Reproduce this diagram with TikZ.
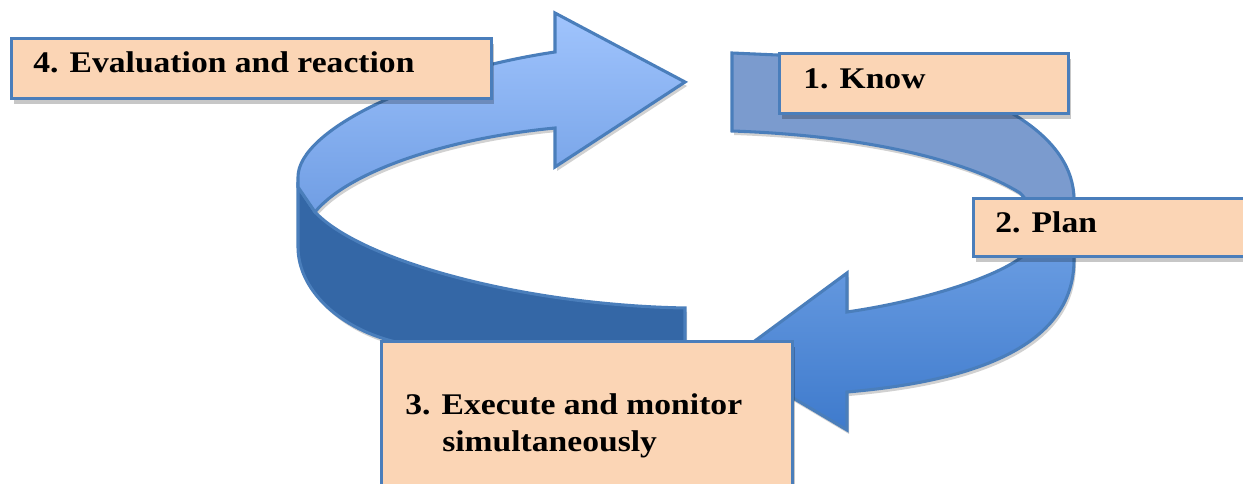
\documentclass[tikz,border=0pt]{standalone}
\usepackage{fontspec}
\setmainfont{Liberation Serif}[FakeStretch=1.12]
\usetikzlibrary{shadows}

\definecolor{boxfill}{RGB}{251,213,181}
\definecolor{edgeblue}{RGB}{74,126,187}
\definecolor{sideband}{RGB}{52,103,166}
\definecolor{backband}{RGB}{123,155,206}
\definecolor{frontTop}{RGB}{160,196,253}
\definecolor{frontBot}{RGB}{112,158,228}
\definecolor{headTop}{RGB}{110,160,228}
\definecolor{headBot}{RGB}{62,122,204}

% outline of the right-hand arrow (Know -> Plan -> Execute)
\def\pathArrowOne{(732,131) -- (732,53) -- (800,56)
  .. controls (950,70) and (1074,120) .. (1074,200) -- (1074,260)
  .. controls (1074,350) and (965,382) .. (847,392)
  -- (847,430) -- (729,360) -- (847,273) -- (847,312)
  .. controls (930,300) and (1000,275) .. (1023,256)
  .. controls (1040,240) and (1038,210) .. (1020,193)
  .. controls (975,165) and (880,136) .. (732,131) -- cycle}
% upper face of the left-hand arrow (Execute -> Evaluation -> Know)
\def\pathArrowTwoTop{(298,187) -- (298,177)
  .. controls (298,130) and (420,72) .. (555,52)
  -- (555,13) -- (685,82) -- (555,167) -- (555,128)
  .. controls (450,138) and (350,170) .. (315,212) -- cycle}
% side wall of the left-hand arrow
\def\pathArrowTwoSide{(298,187) -- (315,212)
  .. controls (360,260) and (520,305) .. (685,308)
  -- (685,350) -- (420,350) -- (400,343)
  .. controls (340,330) and (298,290) .. (298,247) -- cycle}

\tikzset{
  bandedge/.style={draw=edgeblue, line width=2.3pt, line join=miter},
  bandshadow/.style={fill=black, opacity=0.18},
  box/.style={draw=edgeblue, fill=boxfill, line width=2.4pt, inner sep=0,
    anchor=north west,
    drop shadow={shadow xshift=1.5pt, shadow yshift=-3.75pt, fill=black, opacity=0.22}},
  lbl/.style={inner sep=0, anchor=base west,
    font=\fontsize{22.5pt}{27pt}\selectfont\bfseries}
}

\begin{document}
\begin{tikzpicture}[x=0.75pt, y=-0.75pt]
\useasboundingbox (0,0) rectangle (1243,484);
\clip (0,0) rectangle (1243,484);
\fill[white] (0,0) rectangle (1243,484);

% shadows of the arrows
\fill[bandshadow, shift={(2,4)}] \pathArrowOne;
\fill[bandshadow, shift={(2,4)}] \pathArrowTwoSide;
\fill[bandshadow, shift={(2,4)}] \pathArrowTwoTop;

% right-hand arrow: muted back part, shaded front part with head
\begin{scope}
  \clip \pathArrowOne;
  \fill[backband] (700,40) rectangle (1100,226);
  \shade[top color=headTop, bottom color=headBot] (700,226) rectangle (1100,432);
\end{scope}
\draw[bandedge] \pathArrowOne;

% left-hand arrow: dark side wall and light upper face with head
\filldraw[bandedge, fill=sideband] \pathArrowTwoSide;
\shadedraw[bandedge, top color=frontTop, bottom color=frontBot] \pathArrowTwoTop;

% step boxes
\node[box, minimum width=360pt, minimum height=45pt] (b4) at (10,37) {};
\node[box, minimum width=216.75pt, minimum height=45pt] (b1) at (778,52) {};
\node[box, minimum width=217.5pt, minimum height=43.5pt] (b2) at (972,197) {};
\node[box, minimum width=308.25pt, minimum height=120pt] (b3) at (380,340) {};

% step labels
\node[lbl] (t4) at (33,73) {4. Evaluation and reaction};
\node[lbl] (t1) at (803,89) {1. Know};
\node[lbl] (t2) at (995,233) {2. Plan};
\node[lbl] (t3a) at (405,415) {3. Execute and monitor};
\node[lbl] (t3b) at (442,452) {simultaneously};
\end{tikzpicture}
\end{document}
